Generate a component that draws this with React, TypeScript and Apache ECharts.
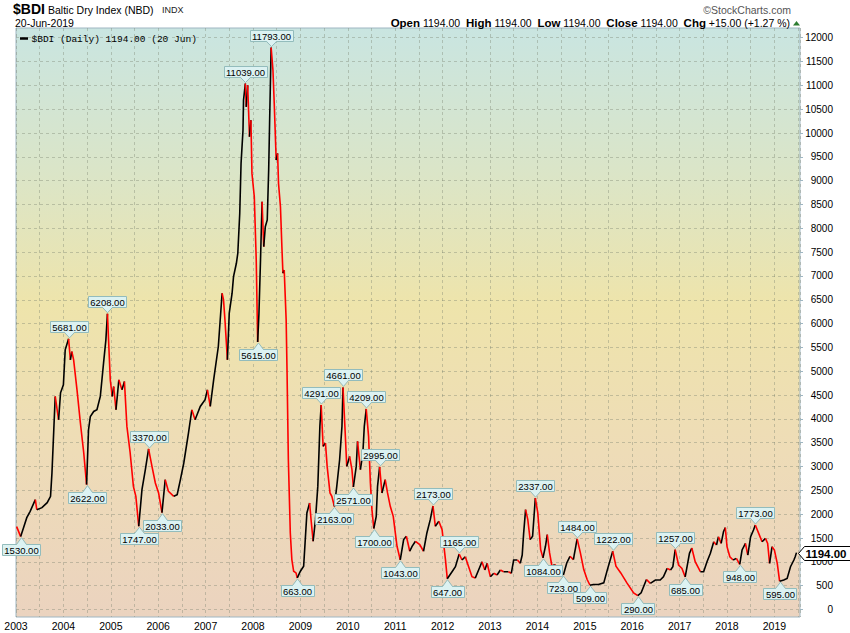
import React, { useEffect, useRef } from "react";
import * as echarts from "echarts";

// ---- Data ----
const dates: string[] = [
  "2003-01-06","2003-02-06","2003-02-28","2003-03-25","2003-04-20","2003-05-30","2003-06-10","2003-07-20","2003-08-29","2003-09-24","2003-10-05","2003-10-19","2003-10-30","2003-11-25","2003-12-10",
  "2004-01-01","2004-01-15","2004-02-10","2004-02-24","2004-03-06","2004-03-20","2004-04-15","2004-05-11","2004-06-06","2004-06-28","2004-07-13","2004-07-27","2004-08-22","2004-09-16","2004-10-12","2004-11-06","2004-11-24","2004-12-06","2004-12-28",
  "2005-01-12","2005-01-23","2005-02-10","2005-03-04","2005-03-28","2005-04-16","2005-05-05","2005-05-30","2005-06-24","2005-07-13","2005-08-04","2005-08-29","2005-09-24","2005-10-19","2005-11-14","2005-12-10",
  "2006-01-04","2006-01-30","2006-02-24","2006-03-21","2006-05-01","2006-05-27","2006-06-21","2006-07-17","2006-08-22","2006-09-17","2006-10-12","2006-11-21","2006-12-28",
  "2007-01-15","2007-02-06","2007-03-04","2007-04-09","2007-05-08","2007-05-19","2007-05-30","2007-06-18","2007-07-02","2007-07-24","2007-08-04","2007-08-26","2007-09-06","2007-09-21","2007-10-01","2007-10-16","2007-10-20","2007-11-03","2007-11-10","2007-11-21","2007-12-05","2007-12-16","2007-12-24",
  "2008-01-11","2008-01-26","2008-02-06","2008-02-16","2008-02-28","2008-03-11","2008-03-24","2008-04-05","2008-04-20","2008-05-01","2008-05-08","2008-05-20","2008-06-03","2008-06-13","2008-06-28","2008-07-09","2008-07-16","2008-07-31","2008-08-11","2008-08-19","2008-08-29","2008-09-13","2008-09-20","2008-09-30","2008-10-15","2008-10-27","2008-11-10","2008-11-28","2008-12-08",
  "2009-01-01","2009-01-26","2009-02-06","2009-02-20","2009-03-13","2009-03-24","2009-04-09","2009-04-27","2009-05-15","2009-05-31","2009-06-10","2009-06-25","2009-07-13","2009-07-26","2009-08-17","2009-08-31","2009-09-20","2009-10-08","2009-10-30","2009-11-17","2009-11-25","2009-12-12","2009-12-24",
  "2010-01-15","2010-02-02","2010-02-13","2010-03-07","2010-03-17","2010-04-08","2010-04-27","2010-05-08","2010-05-23","2010-06-10","2010-06-24","2010-07-06","2010-07-20","2010-08-08","2010-08-18","2010-09-03","2010-09-21","2010-10-16","2010-11-03","2010-11-24","2010-12-17",
  "2011-01-15","2011-02-09","2011-03-07","2011-03-28","2011-04-23","2011-05-11","2011-06-06","2011-07-09","2011-08-07","2011-09-02","2011-09-28","2011-10-19","2011-11-06","2011-12-03","2011-12-28",
  "2012-01-23","2012-02-06","2012-03-14","2012-04-09","2012-05-08","2012-05-30","2012-06-24","2012-07-20","2012-08-15","2012-09-09","2012-10-05","2012-10-31","2012-11-22","2012-12-10",
  "2013-01-04","2013-01-30","2013-02-24","2013-03-22","2013-04-16","2013-05-23","2013-06-14","2013-07-02","2013-07-31","2013-08-22","2013-09-06","2013-09-17","2013-10-02","2013-10-19","2013-11-06","2013-11-25","2013-12-16",
  "2014-01-04","2014-01-26","2014-02-13","2014-03-04","2014-03-18","2014-04-05","2014-04-23","2014-05-15","2014-06-18","2014-07-20","2014-08-15","2014-09-09","2014-10-05","2014-11-03","2014-11-28","2014-12-24",
  "2015-01-19","2015-02-10","2015-03-07","2015-04-16","2015-05-27","2015-06-24","2015-08-04","2015-08-29","2015-10-05","2015-11-21",
  "2016-01-12","2016-02-13","2016-03-10","2016-04-20","2016-05-20","2016-06-28","2016-08-04","2016-08-29","2016-09-27","2016-10-23","2016-11-10","2016-11-28","2016-12-24",
  "2017-01-19","2017-02-13","2017-03-04","2017-03-18","2017-04-05","2017-05-01","2017-06-10","2017-07-05","2017-07-31","2017-08-26","2017-09-21","2017-10-12","2017-10-27","2017-11-17","2017-12-05","2017-12-19",
  "2018-01-01","2018-01-23","2018-02-17","2018-03-14","2018-04-09","2018-04-27","2018-05-23","2018-06-10","2018-07-02","2018-07-24","2018-08-07","2018-09-02","2018-09-28","2018-10-24","2018-11-10","2018-11-25","2018-12-14",
  "2019-01-01","2019-01-23","2019-02-10","2019-03-14","2019-04-09","2019-05-05","2019-05-31","2019-06-10","2019-06-20",
];

const closes: number[] = [
  1740,1530,1718,1928,2061,2306,2096,2138,2243,2376,2871,3773,4471,3982,4548,
  4716,5450,5681,5240,5414,5240,4611,3919,3290,2622,3773,4052,4157,4192,4471,5171,5659,6208,4820,
  4471,4680,4192,4820,4611,4785,3843,3290,2584,2376,1747,2515,2934,3370,3004,2655,
  2446,2033,2725,2480,2376,2410,2725,3075,3704,4192,3982,4262,4402,
  4611,4262,4820,5519,6638,6498,6078,5240,6218,6638,6987,7267,7477,8315,9363,10061,10690,11039,10549,11004,9921,10270,9153,
  8664,7336,5615,6218,7336,8559,7615,8035,8175,9223,10201,11793,11320,10620,9433,9572,8944,8454,7615,7057,7126,6078,4961,3143,1607,1048,803,768,663,
  803,908,1398,2027,2236,1886,1432,1886,2584,3843,4291,3423,3493,3004,2446,2376,2163,2584,3143,3843,4661,3704,3004,
  3213,2934,2571,3004,3528,2934,3285,3843,4209,3633,2655,2096,1700,1956,2584,2995,2446,2725,2446,2166,1956,
  1327,1043,1467,1537,1223,1327,1432,1362,1223,1607,1886,2173,1746,1851,1677,
  1048,647,793,898,1165,1039,1108,898,688,660,829,1003,829,969,
  688,760,724,829,793,793,760,1039,1039,969,1144,1599,2096,1886,1467,1537,2337,
  2027,1258,1084,1327,1572,1188,908,943,838,723,978,1117,1048,1484,1188,838,
  629,509,524,524,559,838,1222,908,768,559,
  349,290,349,629,550,619,619,688,864,829,898,1257,934,
  864,685,969,1179,1290,1003,793,793,1003,1179,1423,1354,1528,1389,1633,1720,
  1318,1108,1039,1074,948,1249,1389,1144,1528,1668,1773,1599,1423,1494,1389,969,1318,
  1249,969,595,619,654,898,1039,1108,1194,
];

const pivotDates: string[] = [
  "2003-02-06","2004-02-10","2004-06-28","2004-12-06","2005-08-04","2005-10-19","2006-01-30","2007-11-03","2008-02-06","2008-05-20",
  "2008-12-08","2009-06-10","2009-09-20","2009-11-25","2010-02-13","2010-05-23","2010-07-20","2010-09-03","2011-02-09","2011-10-19",
  "2012-02-06","2012-05-08","2013-12-16","2014-02-13","2014-07-20","2014-11-03","2015-02-10","2015-08-04","2016-02-13","2016-11-28",
  "2017-02-13","2018-04-09","2018-08-07","2019-02-10",
];
const pivotValues: number[] = [
  1530,5681,2622,6208,1747,3370,2033,11039,5615,11793,
  663,4291,2163,4661,2571,4209,1700,2995,1043,2173,
  647,1165,2337,1084,723,1484,509,1222,290,1257,
  685,948,1773,595,
];
// 1 = label above the point, 0 = label below
const pivotAbove: number[] = [
  0,1,0,1,0,1,0,1,0,1,
  0,1,0,1,0,1,0,1,0,1,
  0,1,1,0,0,1,0,1,0,1,
  0,0,1,0,
];

const yearTicks: number[] = [2003,2004,2005,2006,2007,2008,2009,2010,2011,2012,2013,2014,2015,2016,2017,2018,2019];
const lastDate = "2019-06-20";
const lastValue = 1194;
const headerText = "{b|Open} {n|1194.00}  {b|High} {n|1194.00}  {b|Low} {n|1194.00}  {b|Close} {n|1194.00}  {b|Chg} {n|+15.00 (+1.27 %)}";

// ---- helpers ----
function toYear(d: string): number {
  const [y, m, day] = d.split("-").map(Number);
  const t = Date.UTC(y, m - 1, day);
  const s = Date.UTC(y, 0, 1);
  const e = Date.UTC(y + 1, 0, 1);
  return y + (t - s) / (e - s);
}

const LABEL_FONT = '9.5px "Liberation Sans", Arial, sans-serif';
let measureCtx: CanvasRenderingContext2D | null = null;
function textWidth(t: string, font: string): number {
  if (!measureCtx) measureCtx = document.createElement("canvas").getContext("2d");
  if (!measureCtx) return t.length * 5.3;
  measureCtx.font = font;
  return measureCtx.measureText(t).width;
}

const BOX_FILL = "#dcf2f2";
const BOX_STROKE = "#93bcbc";

function renderCallout(params: any, api: any) {
  const x = api.value(0);
  const v = api.value(1);
  const above = api.value(2) === 1;
  const p = api.coord([x, v]);
  const txt = Number(v).toFixed(2);
  const w = Math.round(textWidth(txt, LABEL_FONT) + 4);
  const h = 11;
  const ptrH = 6;
  const ptrW = 5;
  const cx = Math.round(p[0]) + 0.5;
  const left = Math.round(p[0] - w / 2) + 0.5;
  let top: number;
  let base: number;
  let tipY: number;
  if (above) {
    tipY = p[1] - 1;
    base = Math.round(tipY - ptrH) + 0.5;
    top = base - h;
  } else {
    tipY = p[1] + 1;
    base = Math.round(tipY + ptrH) + 0.5;
    top = base;
  }
  const inner = above ? base - 0.5 : base + 0.5;
  return {
    type: "group",
    children: [
      { type: "rect", shape: { x: left, y: top, width: w, height: h }, style: { fill: BOX_FILL, stroke: BOX_STROKE, lineWidth: 1 } },
      { type: "polygon", shape: { points: [[cx - ptrW, inner], [cx, tipY], [cx + ptrW, inner]] }, style: { fill: BOX_FILL } },
      { type: "polyline", shape: { points: [[cx - ptrW, base], [cx, tipY], [cx + ptrW, base]] }, style: { stroke: BOX_STROKE, fill: null, lineWidth: 1 } },
      { type: "text", style: { text: txt, x: cx, y: top + h / 2 + 0.5, align: "center", verticalAlign: "middle", font: LABEL_FONT, fill: "#000" } },
    ],
  };
}

function renderLastTag(params: any, api: any) {
  const p = api.coord([api.value(0), api.value(1)]);
  const cs = params.coordSys;
  const ax = cs.x + cs.width;
  const y = Math.round(p[1]) + 0.5;
  const tip = ax - 1.5;
  const hh = 7;
  return {
    type: "group",
    children: [
      {
        type: "polygon",
        shape: { points: [[tip, y], [tip + 6, y - hh], [ax + 52, y - hh], [ax + 52, y + hh], [tip + 6, y + hh]] },
        style: { fill: "#ffffff", stroke: "#000", lineWidth: 1 },
      },
      {
        type: "text",
        style: { text: Number(api.value(1)).toFixed(2), x: tip + 7, y: y + 0.5, align: "left", verticalAlign: "middle", font: 'bold 11.5px "Liberation Sans", Arial, sans-serif', fill: "#000" },
      },
    ],
  };
}

export default function App() {
  const ref = useRef<HTMLDivElement>(null);

  useEffect(() => {
    if (!ref.current) return;
    const chart = echarts.init(ref.current, null, { renderer: "svg" });

    const pts: number[][] = dates.map((d, i) => [toYear(d), closes[i]]);
    const runs: any[] = [];
    let cur: number[][] = [pts[0], pts[1]];
    let up = pts[1][1] >= pts[0][1];
    for (let i = 2; i < pts.length; i++) {
      const u = pts[i][1] >= pts[i - 1][1];
      if (u === up) {
        cur.push(pts[i]);
      } else {
        runs.push({ coords: cur, lineStyle: { color: up ? "#000000" : "#ff0000" } });
        cur = [pts[i - 1], pts[i]];
        up = u;
      }
    }
    runs.push({ coords: cur, lineStyle: { color: up ? "#000000" : "#ff0000" } });

    const pivotData = pivotDates.map((d, i) => [toYear(d), pivotValues[i], pivotAbove[i]]);

    const xMin = yearTicks[0];
    const xMax = 2019.54;
    const gridColor = "rgba(120,128,110,0.38)";
    const labelFont = '"Liberation Sans", Arial, sans-serif';

    const option: any = {
      animation: false,
      backgroundColor: "#ffffff",
      grid: [
        {
          left: 16, top: 28, width: 784, height: 589,
          show: true,
          borderColor: "#9fb6c2",
          borderWidth: 1,
          backgroundColor: new echarts.graphic.LinearGradient(0, 0, 0, 1, [
            { offset: 0, color: "#c9e5e1" },
            { offset: 0.25, color: "#dbe5c7" },
            { offset: 0.47, color: "#eee4ab" },
            { offset: 0.72, color: "#eedcb7" },
            { offset: 1, color: "#ebd3bf" },
          ]),
        },
        { left: 16, top: 37.7, width: 784, height: 571.8, show: false },
      ],
      xAxis: [
        {
          type: "value", gridIndex: 0, min: xMin, max: xMax, interval: 0.5,
          axisLine: { show: false },
          axisTick: { show: false },
          axisLabel: {
            margin: 3,
            color: "#000",
            fontFamily: labelFont,
            fontSize: 10.5,
            formatter: (v: number) => (yearTicks.indexOf(v) >= 0 ? String(v) : ""),
          },
          splitLine: { show: true, lineStyle: { color: gridColor, type: [3, 3], width: 1 } },
        },
        { type: "value", gridIndex: 1, min: xMin, max: xMax, show: false },
      ],
      yAxis: [
        { type: "value", gridIndex: 0, min: -157, max: 12204, show: false, splitLine: { show: false } },
        {
          type: "value", gridIndex: 1, position: "right", min: 0, max: 12000, interval: 500,
          axisLine: { show: false },
          axisTick: { show: true, length: 3, lineStyle: { color: "#9fb6c2" } },
          axisLabel: { color: "#000", fontFamily: labelFont, fontSize: 10, align: "right", margin: 33, formatter: (v: number) => String(v) },
          splitLine: { show: true, lineStyle: { color: gridColor, type: [3, 3], width: 1 } },
        },
      ],
      series: [
        {
          type: "lines",
          coordinateSystem: "cartesian2d",
          xAxisIndex: 0,
          yAxisIndex: 0,
          polyline: true,
          silent: true,
          z: 3,
          lineStyle: { width: 1.6, opacity: 1, curveness: 0 },
          data: runs,
        },
        {
          type: "custom",
          coordinateSystem: "cartesian2d",
          xAxisIndex: 0,
          yAxisIndex: 0,
          clip: false,
          silent: true,
          z: 6,
          renderItem: renderCallout,
          data: pivotData,
        },
        {
          type: "custom",
          coordinateSystem: "cartesian2d",
          xAxisIndex: 0,
          yAxisIndex: 0,
          clip: false,
          silent: true,
          z: 7,
          renderItem: renderLastTag,
          data: [[toYear(lastDate), lastValue]],
        },
      ],
      graphic: [
        { type: "text", x: 13, y: 9, z: 10, style: { text: "$BDI", font: 'bold 14px "Liberation Sans", Arial, sans-serif', fill: "#000", verticalAlign: "middle" } },
        { type: "text", x: 48, y: 9.5, z: 10, style: { text: "Baltic Dry Index (NBD)", font: '10.5px "Liberation Sans", Arial, sans-serif', fill: "#000", verticalAlign: "middle" } },
        { type: "text", x: 162, y: 9.5, z: 10, style: { text: "INDX", font: '9px "Liberation Sans", Arial, sans-serif', fill: "#222", verticalAlign: "middle" } },
        { type: "text", x: 15, y: 23, z: 10, style: { text: "20-Jun-2019", font: '10.5px "Liberation Sans", Arial, sans-serif', fill: "#000", verticalAlign: "middle" } },
        { type: "text", x: 791, y: 10, z: 10, style: { text: "\u00A9StockCharts.com", font: '10.5px "Liberation Sans", Arial, sans-serif', fill: "#555", align: "right", verticalAlign: "middle" } },
        {
          type: "text", x: 790, y: 23, z: 10,
          style: {
            text: headerText,
            align: "right",
            verticalAlign: "middle",
            font: '10.5px "Liberation Sans", Arial, sans-serif',
            fill: "#000",
            rich: {
              b: { font: 'bold 11.5px "Liberation Sans", Arial, sans-serif', fill: "#000" },
              n: { font: '10.5px "Liberation Sans", Arial, sans-serif', fill: "#000" },
            },
          },
        },
        { type: "polygon", z: 10, shape: { points: [[793, 25.5], [800, 25.5], [796.5, 21]] }, style: { fill: "#2e7d32" } },
        { type: "line", z: 10, shape: { x1: 20, y1: 38.5, x2: 28, y2: 38.5 }, style: { stroke: "#000", lineWidth: 2.5 } },
        { type: "text", x: 31.5, y: 39, z: 10, style: { text: "$BDI (Daily) 1194.00 (20 Jun)", font: '9.5px "Liberation Mono", "DejaVu Sans Mono", monospace', fill: "#000", verticalAlign: "middle" } },
      ],
    };

    chart.setOption(option);
    return () => {
      chart.dispose();
    };
  }, []);

  return <div ref={ref} style={{ position: "fixed", left: 0, top: 0, width: 850, height: 633 }} />;
}
